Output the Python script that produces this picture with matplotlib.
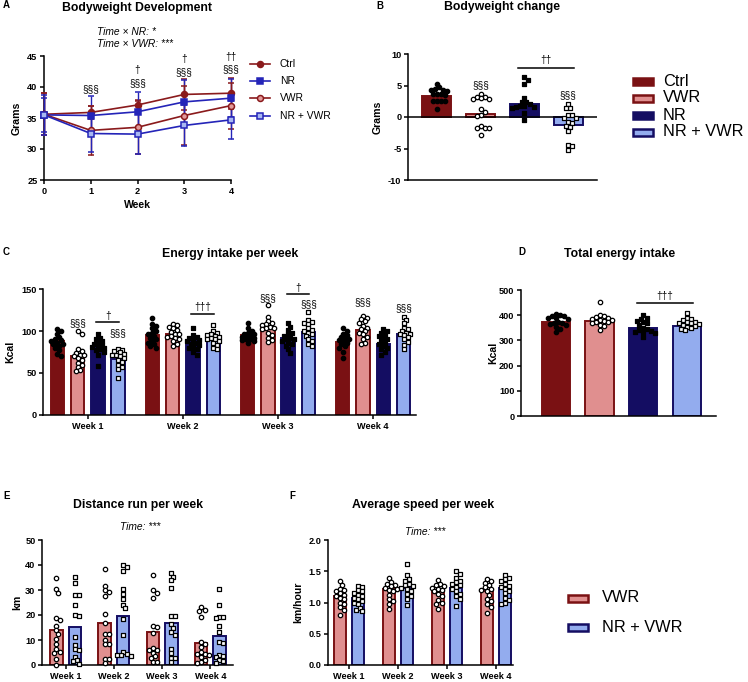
import matplotlib
matplotlib.use("Agg")
import matplotlib.pyplot as plt
import numpy as np
from matplotlib.patches import Rectangle

W, H = 748, 682
plt.rcParams["font.family"] = ["Liberation Sans", "DejaVu Sans"]

CTRL = "#7a1113"
VWR_FILL = "#e08f8f"
NAVY = "#140d62"
NRV_FILL = "#93acee"
LINE_RED = "#8a1a1c"
LINE_BLUE = "#2424b8"

# ---------------- data ----------------
groups = ["Ctrl", "VWR", "NR", "NR + VWR"]
weeks_a = [0, 1, 2, 3, 4]
week_labels = ["Week 1", "Week 2", "Week 3", "Week 4"]

# A: bodyweight development (mean, sd)
bw_ctrl = [35.6, 35.9, 37.1, 38.8, 39.0]
bw_ctrl_sd = [3.4, 1.0, 0.8, 2.5, 2.5]
bw_nr = [35.5, 35.4, 36.0, 37.6, 38.2]
bw_nr_sd = [2.8, 3.2, 3.2, 3.6, 3.1]
bw_vwr = [35.6, 33.0, 33.5, 35.4, 37.0]
bw_vwr_sd = [3.4, 4.0, 4.3, 4.8, 3.7]
bw_nrv = [35.5, 32.5, 32.4, 33.8, 34.7]
bw_nrv_sd = [3.2, 3.0, 3.2, 3.3, 3.1]

# B: bodyweight change
bwc_mean = [3.3, 0.4, 2.1, -1.2]
bwc_ctrl = [5.3, 4.7, 4.5, 4.3, 4.3, 4.2, 3.6, 3.6, 3.6, 3.5, 2.6, 2.6, 2.6, 2.5, 1.3]
bwc_vwr = [3.7, 3.2, 3.2, 3.0, 2.9, 2.8, 1.3, 0.8, 0.3, 0.2, -1.5, -1.7, -1.8, -1.8, -2.9]
bwc_nr = [6.3, 5.9, 5.2, 3.0, 2.4, 2.4, 2.0, 1.8, 1.7, 1.6, 1.6, 1.5, 0.6, -0.4]
bwc_nrv = [2.1, 1.5, 1.4, 0.3, 0.3, -0.2, -0.2, -0.8, -1.0, -1.4, -1.6, -2.2, -4.5, -4.6, -5.3]

# C: energy intake per week (weeks x groups)
ei_mean = [[88, 70, 80, 67], [95, 96, 88, 93], [95, 103, 92, 99], [87, 101, 84, 97]]
ei_ctrl = [
    [102, 100, 97, 93, 90, 89, 88, 86, 85, 84, 82, 80, 77, 73, 70],
    [116, 108, 106, 103, 100, 98, 96, 94, 92, 90, 88, 86, 84, 82, 80],
    [109, 103, 100, 98, 97, 96, 95, 94, 93, 92, 91, 90, 89, 88, 86],
    [103, 100, 97, 95, 93, 91, 90, 89, 88, 86, 84, 82, 80, 75, 68],
]
ei_vwr = [
    [100, 97, 78, 76, 74, 72, 71, 70, 68, 66, 62, 60, 57, 53, 52],
    [108, 107, 105, 103, 101, 99, 97, 96, 94, 93, 92, 90, 88, 85, 82],
    [131, 117, 112, 110, 108, 107, 105, 104, 103, 102, 98, 95, 92, 89, 87],
    [118, 116, 114, 112, 110, 106, 104, 102, 100, 98, 96, 93, 90, 86, 84],
]
ei_nr = [
    [96, 92, 90, 88, 86, 84, 83, 82, 81, 80, 78, 77, 75, 71, 58],
    [103, 95, 93, 92, 90, 89, 88, 86, 85, 83, 81, 80, 78, 75, 72],
    [109, 105, 101, 98, 96, 94, 92, 91, 90, 88, 86, 84, 82, 78, 74],
    [102, 100, 98, 96, 94, 92, 90, 88, 86, 84, 82, 80, 78, 75, 72],
]
ei_nrv = [
    [78, 77, 76, 75, 73, 72, 71, 70, 68, 66, 63, 60, 57, 55, 44],
    [107, 100, 98, 96, 95, 94, 93, 92, 91, 90, 88, 86, 83, 80, 78],
    [123, 113, 111, 110, 108, 103, 101, 100, 98, 96, 94, 90, 88, 85, 82],
    [117, 113, 109, 104, 102, 100, 98, 97, 96, 95, 93, 90, 87, 83, 78],
]

# D: total energy intake
tei_mean = [373, 377, 348, 358]
tei_ctrl = [405, 400, 398, 395, 390, 388, 385, 375, 370, 368, 365, 360, 355, 345, 335]
tei_vwr = [453, 400, 395, 392, 388, 385, 382, 380, 378, 375, 372, 368, 362, 358, 342]
tei_nr = [400, 390, 385, 378, 372, 368, 360, 350, 345, 340, 337, 335, 332, 330, 315]
tei_nrv = [410, 390, 385, 380, 375, 372, 370, 368, 365, 360, 358, 355, 350, 345, 340]

# E: distance run per week (km)
dist_mean_vwr = [14.0, 16.8, 13.3, 9.0]
dist_mean_nrv = [15.3, 19.8, 16.8, 11.6]
dist_vwr = [
    [34.8, 30.3, 29.0, 18.7, 17.9, 15.6, 14.0, 12.5, 10.5, 8.5, 6.5, 5.3, 5.0, 2.5, 0.2],
    [38.6, 31.6, 30.0, 29.2, 27.8, 20.3, 17.0, 12.5, 12.3, 10.0, 8.3, 8.4, 2.6, 2.4, 0.9],
    [36.2, 30.1, 29.0, 26.7, 15.6, 15.2, 13.0, 6.9, 6.1, 6.1, 4.8, 3.5, 2.8, 1.3, 1.1],
    [23.2, 22.2, 21.8, 19.1, 9.4, 8.6, 7.2, 5.4, 4.6, 4.4, 4.0, 3.4, 2.2, 1.2, 0.8],
]
dist_nrv = [
    [35.3, 32.7, 28.2, 28.2, 24.2, 20.0, 19.6, 11.1, 8.1, 6.3, 5.9, 3.3, 2.0, 1.8, 0.6],
    [40.0, 39.4, 37.5, 30.3, 28.3, 26.3, 24.0, 22.7, 18.3, 11.9, 5.3, 4.3, 4.0, 3.9, 3.5],
    [36.7, 35.3, 34.0, 30.7, 19.8, 19.8, 16.3, 15.0, 13.1, 11.9, 6.4, 4.8, 2.9, 2.9, 1.2],
    [30.3, 24.2, 19.3, 19.3, 19.0, 15.6, 13.3, 9.4, 9.0, 4.2, 3.7, 3.4, 2.1, 1.8, 1.0],
]

# F: average speed per week (km/hour)
spd_mean_vwr = [1.10, 1.21, 1.19, 1.19]
spd_mean_nrv = [1.08, 1.24, 1.24, 1.23]
spd_vwr = [
    [1.34, 1.28, 1.22, 1.20, 1.18, 1.15, 1.12, 1.10, 1.08, 1.05, 1.00, 0.97, 0.93, 0.88, 0.80],
    [1.39, 1.33, 1.30, 1.28, 1.26, 1.24, 1.22, 1.20, 1.18, 1.12, 1.05, 1.02, 0.98, 0.89],
    [1.36, 1.30, 1.28, 1.26, 1.24, 1.22, 1.20, 1.18, 1.14, 1.10, 1.04, 1.00, 0.98, 0.90],
    [1.38, 1.35, 1.32, 1.28, 1.25, 1.22, 1.20, 1.18, 1.12, 1.05, 1.02, 0.98, 0.93, 0.84],
]
spd_nrv = [
    [1.27, 1.25, 1.20, 1.18, 1.15, 1.12, 1.10, 1.08, 1.05, 1.03, 1.00, 0.98, 0.92, 0.88, 0.86],
    [1.61, 1.44, 1.38, 1.35, 1.30, 1.28, 1.26, 1.24, 1.22, 1.18, 1.14, 1.10, 1.06, 0.96],
    [1.51, 1.46, 1.40, 1.35, 1.33, 1.30, 1.28, 1.25, 1.22, 1.18, 1.13, 1.10, 1.05, 0.95],
    [1.44, 1.40, 1.37, 1.35, 1.30, 1.27, 1.25, 1.22, 1.18, 1.15, 1.08, 1.04, 1.00, 0.98],
]

# ---------------- helpers ----------------
fig = plt.figure(figsize=(W / 100, H / 100), dpi=100, facecolor="white")
canvas = fig.add_axes([0, 0, 1, 1])
canvas.set_xlim(0, W)
canvas.set_ylim(H, 0)
canvas.set_axis_off()

TICK = 6.6
LAB = 7.6
TITLE = 8.8


def add_ax(left, top, right, bottom):
    ax = fig.add_axes([left / W, 1 - bottom / H, (right - left) / W, (bottom - top) / H])
    ax.set_facecolor("none")
    for s in ("top", "right"):
        ax.spines[s].set_visible(False)
    for s in ("left", "bottom"):
        ax.spines[s].set_linewidth(1.1)
    ax.tick_params(width=1.1, length=3.2, labelsize=TICK, pad=1.5)
    return ax


def ptext(x, y, s, **kw):
    canvas.text(x, y, s, **kw)


def swarm_offsets(values, xpx, ypx, halfw, d=4.0):
    # simple beeswarm in pixel space, kept inside +-halfw pixels
    vals = np.asarray(values, float)
    order = np.argsort(-vals, kind="stable")
    cands = [0.0]
    k = 1
    while k * d / 2 <= halfw + 0.01:
        cands += [k * d / 2, -k * d / 2]
        k += 1
    placed = []
    offs = np.zeros(len(vals))
    for i in order:
        y = vals[i] * ypx
        best, best_gap = 0.0, -1.0
        for c in cands:
            gap = min([np.hypot(c - px, y - py) for px, py in placed] or [99.0])
            if gap >= d * 0.95:
                best = c
                break
            if gap > best_gap:
                best, best_gap = c, gap
        placed.append((best, y))
        offs[i] = best / xpx
    return offs


def dots(ax, center, values, marker, filled, xpx, ypx, halfw):
    offs = swarm_offsets(values, xpx, ypx, halfw)
    ax.scatter(center + offs, values, s=9 if marker == "s" else 10, marker=marker,
               facecolor="black" if filled else "white", edgecolor="black",
               linewidths=0.9, zorder=4, clip_on=False)


def bar(ax, x, h, width, fill, edge, lw=1.4):
    ax.bar(x, h, width, color=fill, edgecolor=edge, linewidth=lw, zorder=2)


def bold_ticks(ax, axis, ticks, labels):
    if axis == "x":
        ax.set_xticks(ticks, labels, fontweight="bold", fontsize=TICK)
    else:
        ax.set_yticks(ticks, labels, fontweight="bold", fontsize=TICK)


GROUP_STYLE = [
    (CTRL, CTRL, "o", True),
    (VWR_FILL, CTRL, "o", False),
    (NAVY, NAVY, "s", True),
    (NRV_FILL, NAVY, "s", False),
]

# ---------------- A ----------------
axA = add_ax(44, 56, 231, 180)
axA.set_xlim(0, 4)
axA.set_ylim(25, 45)
bold_ticks(axA, "x", weeks_a, [str(w) for w in weeks_a])
bold_ticks(axA, "y", [25, 30, 35, 40, 45], ["25", "30", "35", "40", "45"])
series_a = [
    (bw_ctrl, bw_ctrl_sd, LINE_RED, LINE_RED, "o"),
    (bw_nr, bw_nr_sd, LINE_BLUE, LINE_BLUE, "s"),
    (bw_vwr, bw_vwr_sd, LINE_RED, "#e39a9a", "o"),
    (bw_nrv, bw_nrv_sd, LINE_BLUE, "#a9b8f2", "s"),
]
for vals, sd, col, face, mk in series_a:
    axA.errorbar(weeks_a, vals, yerr=sd, color=col, lw=1.2, marker=mk, ms=4.3,
                 mfc=face, mec=col, mew=1.1, capsize=2.4, capthick=1.0, elinewidth=1.0,
                 zorder=3)
for art in axA.lines + axA.collections:
    art.set_clip_on(False)
axA.set_ylabel("Grams", fontweight="bold", fontsize=LAB)
axA.yaxis.set_label_coords(-0.118, 0.5)
axA.set_xlabel("Week", fontweight="bold", fontsize=LAB)
axA.xaxis.set_label_coords(0.5, -0.16)
for x, y, s in [(1, 39.7, "§§§"), (2, 40.6, "§§§"), (2, 42.7, "†"), (3, 42.4, "§§§"),
                (3, 44.5, "†"), (4, 42.9, "§§§"), (4, 44.8, "††")]:
    axA.text(x, y, s, ha="center", va="center", fontsize=7.2)

ptext(137, 8, "Bodyweight Development", ha="center", va="center", fontsize=TITLE, fontweight="bold")
ptext(3, 5, "A", ha="left", va="center", fontsize=7, fontweight="bold")
ptext(97, 32, "Time × NR: *", ha="left", va="center", fontsize=7.4, style="italic")
ptext(97, 44, "Time × VWR: ***", ha="left", va="center", fontsize=7.4, style="italic")

legA = [("Ctrl", LINE_RED, LINE_RED, "o"), ("NR", LINE_BLUE, LINE_BLUE, "s"),
        ("VWR", LINE_RED, "#e39a9a", "o"), ("NR + VWR", LINE_BLUE, "#a9b8f2", "s")]
for i, (lab, col, face, mk) in enumerate(legA):
    y = 64 + i * 17.2
    canvas.plot([250, 270], [y, y], color=col, lw=1.2)
    canvas.plot([260], [y], marker=mk, ms=4.3, mfc=face, mec=col, mew=1.1)
    ptext(280, y, lab, ha="left", va="center", fontsize=7.4)

# ---------------- B ----------------
axB = add_ax(408, 54, 597, 180)
axB.set_xlim(-0.66, 3.66)
axB.set_ylim(-10, 10)
axB.set_xticks([])
bold_ticks(axB, "y", [-10, -5, 0, 5, 10], ["-10", "-5", "0", "5", "10"])
axB.axhline(0, color="black", lw=1.1, zorder=3)
bwc_points = [bwc_ctrl, bwc_vwr, bwc_nr, bwc_nrv]
for i in range(4):
    fill, edge, mk, filled = GROUP_STYLE[i]
    bar(axB, i, bwc_mean[i], 0.66, fill, edge)
    dots(axB, i, bwc_points[i], mk, filled, 43.7, 6.27, 13)
axB.set_ylabel("Grams", fontweight="bold", fontsize=LAB)
axB.yaxis.set_label_coords(-0.132, 0.5)
axB.plot([1.85, 3.14], [7.8, 7.8], color="black", lw=1.1, clip_on=False)
axB.text(2.5, 9.1, "††", ha="center", va="center", fontsize=7.2)
axB.text(1, 5.1, "§§§", ha="center", va="center", fontsize=7.2)
axB.text(3, 3.5, "§§§", ha="center", va="center", fontsize=7.2)
ptext(502, 7, "Bodyweight change", ha="center", va="center", fontsize=TITLE, fontweight="bold")
ptext(376, 6, "B", ha="left", va="center", fontsize=7, fontweight="bold")

for i, lab in enumerate(["Ctrl", "VWR", "NR", "NR + VWR"]):
    fill, edge = {0: (CTRL, CTRL), 1: (VWR_FILL, CTRL), 2: (NAVY, NAVY), 3: (NRV_FILL, NAVY)}[i]
    y = 81 + i * 17
    canvas.add_patch(Rectangle((633, y - 3.5), 20, 7, facecolor=fill, edgecolor=edge, lw=1.8))
    ptext(663, y, lab, ha="left", va="center", fontsize=11.8)

# ---------------- C ----------------
axC = add_ax(43, 289, 416, 415)
axC.set_xlim(-0.47, 3.45)
axC.set_ylim(0, 150)
bold_ticks(axC, "x", [0, 1, 2, 3], week_labels)
bold_ticks(axC, "y", [0, 50, 100, 150], ["0", "50", "100", "150"])
c_offsets = [-0.32, -0.107, 0.107, 0.32]
ei_points = [ei_ctrl, ei_vwr, ei_nr, ei_nrv]
for w in range(4):
    for g in range(4):
        fill, edge, mk, filled = GROUP_STYLE[g]
        bar(axC, w + c_offsets[g], ei_mean[w][g], 0.142, fill, edge)
        dots(axC, w + c_offsets[g], ei_points[g][w], mk, filled, 95, 0.84, 7.5)
axC.set_ylabel("Kcal", fontweight="bold", fontsize=LAB)
axC.yaxis.set_label_coords(-0.075, 0.5)
c_sig = [(0, 111, 118, "†"), (1, 120.5, 128.5, "†††"), (2, 144, 151, "†")]
for w, ly, ty, s in c_sig:
    axC.plot([w + 0.09, w + 0.33], [ly, ly], color="black", lw=1.1)
    axC.text(w + 0.21, ty, s, ha="center", va="center", fontsize=7.2)
c_sect = [(0, 1, 109), (0, 3, 97), (2, 1, 139), (2, 3, 132), (3, 1, 134), (3, 3, 127)]
for w, g, y in c_sect:
    axC.text(w + c_offsets[g], y, "§§§", ha="center", va="center", fontsize=7.2)
ptext(230, 254, "Energy intake per week", ha="center", va="center", fontsize=TITLE, fontweight="bold")
ptext(3, 252, "C", ha="left", va="center", fontsize=7, fontweight="bold")

# ---------------- D ----------------
axD = add_ax(521, 290, 716, 416)
axD.set_xlim(-0.8, 3.67)
axD.set_ylim(0, 500)
axD.set_xticks([])
bold_ticks(axD, "y", [0, 100, 200, 300, 400, 500], ["0", "100", "200", "300", "400", "500"])
tei_points = [tei_ctrl, tei_vwr, tei_nr, tei_nrv]
for g in range(4):
    fill, edge, mk, filled = GROUP_STYLE[g]
    bar(axD, g, tei_mean[g], 0.65, fill, edge)
    dots(axD, g, tei_points[g], mk, filled, 43.5, 0.252, 14)
axD.set_ylabel("Kcal", fontweight="bold", fontsize=LAB)
axD.yaxis.set_label_coords(-0.118, 0.5)
axD.plot([1.86, 3.15], [450, 450], color="black", lw=1.1, clip_on=False)
axD.text(2.5, 478, "†††", ha="center", va="center", fontsize=7.2)
ptext(620, 254, "Total energy intake", ha="center", va="center", fontsize=TITLE, fontweight="bold")
ptext(518, 252, "D", ha="left", va="center", fontsize=7, fontweight="bold")

# ---------------- E ----------------
axE = add_ax(42, 540, 233, 665)
axE.set_xlim(-0.49, 3.47)
axE.set_ylim(0, 50)
bold_ticks(axE, "x", [0, 1, 2, 3], week_labels)
bold_ticks(axE, "y", [0, 10, 20, 30, 40, 50], ["0", "10", "20", "30", "40", "50"])
for w in range(4):
    bar(axE, w - 0.19, dist_mean_vwr[w], 0.26, VWR_FILL, CTRL)
    bar(axE, w + 0.19, dist_mean_nrv[w], 0.26, NRV_FILL, NAVY)
    dots(axE, w - 0.19, dist_vwr[w], "o", False, 48.3, 2.5, 8)
    dots(axE, w + 0.19, dist_nrv[w], "s", False, 48.3, 2.5, 8)
axE.set_ylabel("km", fontweight="bold", fontsize=LAB)
axE.yaxis.set_label_coords(-0.105, 0.5)
ptext(138, 505, "Distance run per week", ha="center", va="center", fontsize=TITLE, fontweight="bold")
ptext(140, 527, "Time: ***", ha="center", va="center", fontsize=7.4, style="italic")
ptext(3, 496, "E", ha="left", va="center", fontsize=7, fontweight="bold")

# ---------------- F ----------------
axF = add_ax(328, 540, 513, 665)
axF.set_xlim(-0.43, 3.35)
axF.set_ylim(0, 2.0)
bold_ticks(axF, "x", [0, 1, 2, 3], week_labels)
bold_ticks(axF, "y", [0, 0.5, 1.0, 1.5, 2.0], ["0.0", "0.5", "1.0", "1.5", "2.0"])
for w in range(4):
    bar(axF, w - 0.18, spd_mean_vwr[w], 0.24, VWR_FILL, CTRL)
    bar(axF, w + 0.18, spd_mean_nrv[w], 0.24, NRV_FILL, NAVY)
    dots(axF, w - 0.18, spd_vwr[w], "o", False, 49, 62.5, 8)
    dots(axF, w + 0.18, spd_nrv[w], "s", False, 49, 62.5, 8)
axF.set_ylabel("km/hour", fontweight="bold", fontsize=LAB)
axF.yaxis.set_label_coords(-0.135, 0.5)
ptext(423, 505, "Average speed per week", ha="center", va="center", fontsize=TITLE, fontweight="bold")
ptext(425, 532, "Time: ***", ha="center", va="center", fontsize=7.4, style="italic")
ptext(289, 496, "F", ha="left", va="center", fontsize=7, fontweight="bold")

for i, (lab, fill, edge) in enumerate([("VWR", VWR_FILL, CTRL), ("NR + VWR", NRV_FILL, NAVY)]):
    y = 598 + i * 29
    canvas.add_patch(Rectangle((568, y - 3.5), 20, 7, facecolor=fill, edgecolor=edge, lw=1.8))
    ptext(602, y, lab, ha="left", va="center", fontsize=11.8)

fig.savefig("out.png", dpi=100, facecolor="white")
